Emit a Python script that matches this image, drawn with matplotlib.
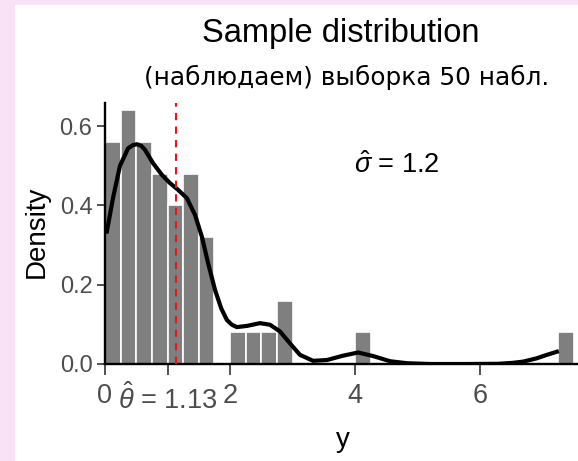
import matplotlib
matplotlib.use("Agg")
import matplotlib.pyplot as plt
from matplotlib.patches import Rectangle

plt.rcParams['font.family'] = ['Liberation Sans', 'DejaVu Sans']
plt.rcParams['mathtext.fontset'] = 'custom'
plt.rcParams['mathtext.rm'] = 'Liberation Sans'
plt.rcParams['mathtext.it'] = 'Liberation Sans:italic'

# histogram bins (left edge, width 0.25) and density
bar_left = [0, 0.25, 0.5, 0.75, 1.0, 1.25, 1.5, 2.0, 2.25, 2.5, 2.75, 4.0, 7.25]
bar_dens = [0.56, 0.64, 0.56, 0.48, 0.40, 0.48, 0.32, 0.08, 0.08, 0.08, 0.16, 0.08, 0.08]
bin_w = 0.25

# density curve
kde_x = [0.03, 0.13, 0.24, 0.37, 0.45, 0.51, 0.58, 0.64, 0.77, 0.91, 1.04, 1.17, 1.31,
         1.44, 1.55, 1.65, 1.76, 1.86, 1.95, 2.03, 2.11, 2.27, 2.48, 2.64, 2.8, 2.96,
         3.12, 3.33, 3.55, 3.81, 4.05, 4.29, 4.56, 4.83, 5.2, 5.8, 6.3, 6.53, 6.69,
         6.9, 7.05, 7.23]
kde_y = [0.334, 0.42, 0.50, 0.544, 0.552, 0.554, 0.55, 0.54, 0.506, 0.477, 0.456, 0.439,
         0.418, 0.376, 0.321, 0.254, 0.187, 0.14, 0.111, 0.099, 0.093, 0.096, 0.103,
         0.099, 0.082, 0.052, 0.023, 0.008, 0.010, 0.021, 0.029, 0.020, 0.007, 0.002,
         0.0, 0.0, 0.0005, 0.003, 0.006, 0.014, 0.022, 0.031]

theta_hat = 1.13
sigma_hat = 1.2
x_ticks = [0, 1, 2, 4, 6]
x_labels = ['0', r'$\hat{\theta}$ = 1.13', '2', '4', '6']
y_ticks = [0.0, 0.2, 0.4, 0.6]

W, H = 578, 461
fig = plt.figure(figsize=(W / 100, H / 100), dpi=100)
fig.patch.set_facecolor('#F9E1F6')
fig.patches.append(Rectangle((15 / W, 0), 1 - 15 / W, 1 - 5 / H, transform=fig.transFigure,
                             facecolor='white', edgecolor='none', zorder=-10))

ax = fig.add_axes([105 / W, 1 - 364 / H, (W - 105) / W, (364 - 103) / H])
ax.set_facecolor('none')

ax.bar(bar_left, bar_dens, width=bin_w, align='edge', color='#7F7F7F',
       edgecolor='white', linewidth=1.2, zorder=2)
ax.plot(kde_x, kde_y, color='black', lw=3.0, solid_joinstyle='round', zorder=3)
ax.axvline(theta_hat, color='#E8141C', lw=1.5, ls=(0, (3.5, 3)), zorder=4)

ax.text(4.67, 0.50, r'$\hat{\sigma}$ = %g' % sigma_hat, fontsize=19.5, ha='center', va='center')

ax.set_xlim(0, (W - 105) / 62.5)
ax.set_ylim(0, 0.658)
ax.set_xticks(x_ticks)
ax.set_xticklabels(x_labels)
ax.set_yticks(y_ticks)
ax.set_yticklabels(['0.0', '0.2', '0.4', '0.6'])

for s in ['top', 'right']:
    ax.spines[s].set_visible(False)
for s in ['left', 'bottom']:
    ax.spines[s].set_linewidth(1.7)
    ax.spines[s].set_color('black')
ax.tick_params(axis='both', width=1.2, color='#333333', labelcolor='#4D4D4D')
ax.tick_params(axis='y', length=6, labelsize=17, pad=3)
ax.tick_params(axis='x', length=8, labelsize=19.5, pad=6)

fig.text(341 / W, 1 - 33 / H, 'Sample distribution', fontsize=23.5, ha='center', va='center')
fig.text(347 / W, 1 - 77 / H, '(наблюдаем) выборка 50 набл.', fontsize=17.8,
         family='DejaVu Sans', ha='center', va='center')
fig.text(37 / W, 1 - 232 / H, 'Density', fontsize=20, rotation=90, ha='center', va='center')
fig.text(343 / W, 1 - 440 / H, 'y', fontsize=20, ha='center', va='center')

fig.savefig('out.png', dpi=100, facecolor=fig.get_facecolor())
